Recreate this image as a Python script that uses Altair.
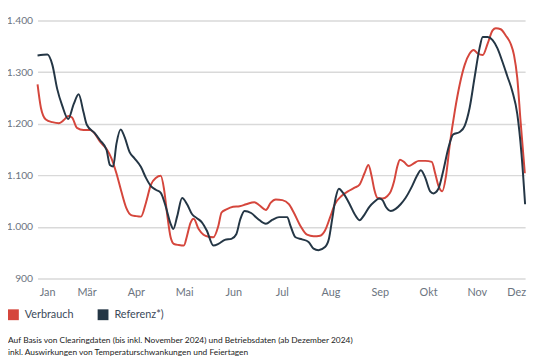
import json
import altair as alt
import pandas as pd

# ---- data (x in calendar weeks, y in GWh-like units) ----
series_names = ["Verbrauch", "Referenz*)"]
series_colors = ["#d5463c", "#243645"]

verb_week = [1.00, 1.35, 1.87, 2.55, 3.24, 3.75, 4.20, 4.61, 5.12, 5.81,
             6.51, 7.02, 7.54, 8.22, 8.73, 9.25, 9.76, 10.28, 10.79, 11.31,
             11.82, 12.34, 12.86, 13.37, 13.89, 14.24, 14.58, 14.92, 15.27, 15.78,
             16.30, 16.64, 16.98, 17.33, 17.85, 18.36, 18.88, 19.39, 19.91, 20.25,
             20.76, 21.45, 22.13, 22.82, 23.68, 24.20, 24.89, 25.40, 25.92, 26.61,
             27.29, 27.80, 28.50, 29.19, 29.87, 30.56, 31.07, 31.59, 32.10, 32.79,
             33.47, 34.16, 34.68, 35.20, 35.61, 35.95, 36.23, 36.57, 37.08, 37.60,
             37.95, 38.29, 38.63, 38.91, 39.32, 39.84, 40.35, 40.87, 41.56, 42.24,
             42.59, 42.93, 43.34, 43.72, 44.13, 44.65, 45.16, 45.68, 46.20, 46.61,
             47.05, 47.57, 48.08, 48.60, 48.94, 49.45, 49.97, 50.49, 50.84, 51.18,
             51.52, 51.97]
verb_value = [1276, 1231, 1208, 1203, 1201, 1207, 1215, 1212, 1192, 1188,
              1188, 1180, 1165, 1151, 1133, 1104, 1069, 1037, 1023, 1021,
              1020, 1047, 1082, 1095, 1099, 1072, 1021, 980, 967, 965,
              964, 983, 1007, 1016, 996, 985, 981, 980, 1002, 1028,
              1034, 1039, 1040, 1044, 1048, 1042, 1033, 1047, 1053, 1052,
              1044, 1028, 1002, 985, 982, 983, 993, 1018, 1044, 1060,
              1069, 1076, 1082, 1104, 1120, 1098, 1072, 1056, 1055, 1060,
              1069, 1088, 1117, 1130, 1126, 1118, 1123, 1128, 1128, 1126,
              1104, 1080, 1069, 1098, 1161, 1225, 1276, 1314, 1336, 1343,
              1336, 1333, 1355, 1381, 1385, 1383, 1371, 1355, 1333, 1289,
              1206, 1104]

ref_week = [1.00, 2.03, 2.55, 3.06, 3.58, 4.20, 4.78, 5.30, 5.81, 6.15,
            7.02, 7.54, 8.22, 8.57, 8.91, 9.25, 9.70, 10.11, 10.63, 11.14,
            11.82, 12.34, 12.86, 13.37, 13.89, 14.40, 14.92, 15.20, 15.61, 16.12,
            16.64, 17.15, 17.67, 18.19, 18.70, 19.39, 19.91, 20.59, 21.28, 21.79,
            22.21, 22.65, 23.34, 24.03, 24.89, 25.58, 26.26, 27.12, 27.46, 27.98,
            28.67, 29.35, 29.87, 30.38, 31.07, 31.48, 31.82, 32.18, 32.52, 32.96,
            33.65, 34.16, 34.68, 35.20, 35.71, 36.23, 36.74, 37.08, 37.43, 37.95,
            38.46, 38.98, 39.49, 40.18, 40.69, 41.10, 41.56, 42.07, 42.41, 42.93,
            43.44, 43.96, 44.47, 45.16, 45.68, 46.20, 46.71, 47.23, 47.57, 48.08,
            48.60, 49.11, 49.63, 50.14, 50.66, 51.18, 51.62, 52.00]
ref_value = [1332, 1334, 1314, 1267, 1235, 1209, 1238, 1257, 1222, 1198,
             1181, 1168, 1149, 1120, 1117, 1161, 1189, 1174, 1145, 1133,
             1116, 1095, 1079, 1072, 1066, 1040, 1006, 996, 1021, 1056,
             1044, 1025, 1017, 1009, 993, 964, 967, 975, 977, 986,
             1015, 1031, 1027, 1016, 1006, 1014, 1019, 1019, 1002, 980,
             976, 971, 958, 955, 961, 977, 1015, 1056, 1074, 1066,
             1044, 1025, 1013, 1024, 1039, 1049, 1055, 1052, 1039, 1031,
             1035, 1044, 1056, 1079, 1099, 1110, 1095, 1069, 1065, 1074,
             1109, 1152, 1179, 1184, 1196, 1231, 1289, 1346, 1368, 1368,
             1362, 1346, 1320, 1292, 1263, 1219, 1142, 1044]

month_labels = ["Jan", "Mär", "Apr", "Mai", "Jun", "Jul", "Aug", "Sep", "Okt", "Nov", "Dez"]
month_pos = [2.0, 6.12, 11.28, 16.33, 21.48, 26.54, 31.64, 36.79, 41.85, 46.95, 51.07]
y_ticks = [900, 1000, 1100, 1200, 1300, 1400]

notes = [
    "Auf Basis von Clearingdaten (bis inkl. November 2024) und Betriebsdaten (ab Dezember 2024)",
    "inkl. Auswirkungen von Temperaturschwankungen und Feiertagen",
]

# ---- build table ----
df = pd.concat([
    pd.DataFrame({"Woche": verb_week, "Wert": verb_value, "Reihe": series_names[0]}),
    pd.DataFrame({"Woche": ref_week, "Wert": ref_value, "Reihe": series_names[1]}),
], ignore_index=True)

FONT = "Lato"
x_label_expr = "%s[indexof(%s, datum.value)]" % (
    json.dumps(month_labels), json.dumps(month_pos))

lines = alt.Chart(df).mark_line(
    interpolate="monotone", strokeWidth=2
).encode(
    x=alt.X("Woche:Q",
            scale=alt.Scale(domain=[1, 52], nice=False, zero=False),
            axis=alt.Axis(values=month_pos, labelExpr=x_label_expr, title=None,
                          grid=False, domain=False, ticks=False,
                          labelFlush=False, labelOverlap=False,
                          labelPadding=8, labelFontSize=11, labelColor="#6b7480",
                          labelFont=FONT)),
    y=alt.Y("Wert:Q",
            scale=alt.Scale(domain=[900, 1400], nice=False, zero=False),
            axis=alt.Axis(values=y_ticks, title=None, domain=False, ticks=False,
                          labelExpr="replace(format(datum.value, ','), ',', '.')",
                          labelPadding=5, labelFontSize=10.5, labelColor="#6b7480",
                          labelFont=FONT, gridColor="#d9d9d9", gridWidth=1.5)),
    color=alt.Color("Reihe:N",
                    scale=alt.Scale(domain=series_names, range=series_colors),
                    sort=series_names,
                    legend=alt.Legend(title=None, orient="none", direction="horizontal",
                                      legendX=-30, legendY=293,
                                      symbolType="square", symbolSize=4,
                                      symbolStrokeWidth=9, symbolOpacity=1,
                                      labelFontSize=11, labelColor="#3b4a5a",
                                      labelFont=FONT, labelOffset=6,
                                      columnPadding=10, padding=0)),
)

note_layers = []
for i, t in enumerate(notes):
    note_layers.append(
        alt.Chart(pd.DataFrame({"t": [t]})).mark_text(
            align="left", baseline="middle", fontSize=8.5, font=FONT, color="#222222"
        ).encode(text="t:N", x=alt.value(-30), y=alt.value(324 + 13 * i))
    )

chart = alt.layer(lines, *note_layers).properties(
    width=495, height=262,
    autosize=alt.AutoSizeParams(type="none"),
    padding={"left": 30, "top": 10, "right": 7, "bottom": 80},
).configure_view(stroke=None)

chart.save("out.html", embed_options={"renderer": "svg", "actions": False})
